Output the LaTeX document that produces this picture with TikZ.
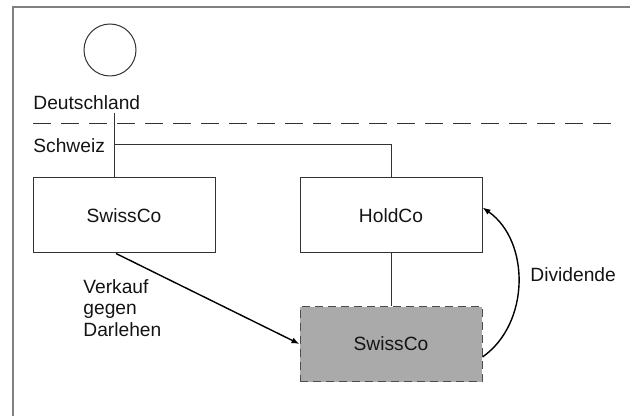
\documentclass[tikz,border=0pt]{standalone}
\usepackage{fontspec}
\setmainfont{Liberation Sans}
\usetikzlibrary{arrows.meta, positioning, calc}
\definecolor{dgbg}{HTML}{FFFFFF}
\definecolor{dgtext}{HTML}{141414}
\definecolor{dgframe}{HTML}{808080}
\definecolor{dgline}{HTML}{333333}
\definecolor{dgshade}{HTML}{AAAAAA}
\definecolor{dgdash}{HTML}{4D4D4D}
\tikzset{
  firm/.style={rectangle, draw=dgline, fill=dgbg, text=dgtext, line width=0.5pt,
              minimum width=91pt, minimum height=37.5pt, inner sep=0pt},
  firmnew/.style={firm, fill=dgshade, draw=dgdash, dash pattern=on 4pt off 2.5pt},
  link/.style={draw=dgline, line width=0.5pt},
  flow/.style={-{Latex[length=4pt, width=3pt]}, draw=black, line width=0.7pt},
  lbl/.style={text=dgtext, inner sep=0pt, align=left},
}

\begin{document}
\begin{tikzpicture}[x=0.5pt, y=-0.5pt, every node/.style={font=\fontsize{9.6}{10.75}\selectfont}]
      \useasboundingbox (0,0) rectangle (630,416);
      \draw[dgframe, line width=0.6pt] (13,416) -- (13,7) -- (630,7);
      % Staatsgrenze
      \node[circle, draw=dgline, line width=0.5pt, minimum size=26pt, inner sep=0pt] (de) at (110,50) {};
      \node[lbl, anchor=west] (dl) at (33,103) {Deutschland};
      \node[lbl, anchor=west] (ch) at (33,146) {Schweiz};
      \coordinate (bl) at (33,124);
      \coordinate (br) at (612,124);
      \draw[dgline, line width=0.5pt, dash pattern=on 9pt off 5pt] (bl) -- (br);
      % Gesellschaften
      \node[firm] (swiss) at (124,215.5) {SwissCo};
      \node[firm] (hold) at (391,215.5) {HoldCo};
      \node[firmnew] (swissnew) at (391,344) {SwissCo};
      \coordinate (top) at (114,113);
      \coordinate (fork) at (114,145);
      \draw[link] (top) -- (top |- swiss.north);
      \draw[link] (fork) -| (hold.north);
      \draw[link] (hold.south) -- (swissnew.north);
      % Transaktionen
      \draw[flow] ([xshift=-4pt]swiss.south) -- (swissnew.west);
      \node[lbl, anchor=west] (sale) at (83,308) {Verkauf\\gegen\\Darlehen};
      \draw[flow] ([yshift=-6.5pt]swissnew.east) to[bend right=55] ([yshift=4pt]hold.east);
      \node[lbl, anchor=west] (div) at (530,275) {Dividende};
    \end{tikzpicture}
\end{document}
